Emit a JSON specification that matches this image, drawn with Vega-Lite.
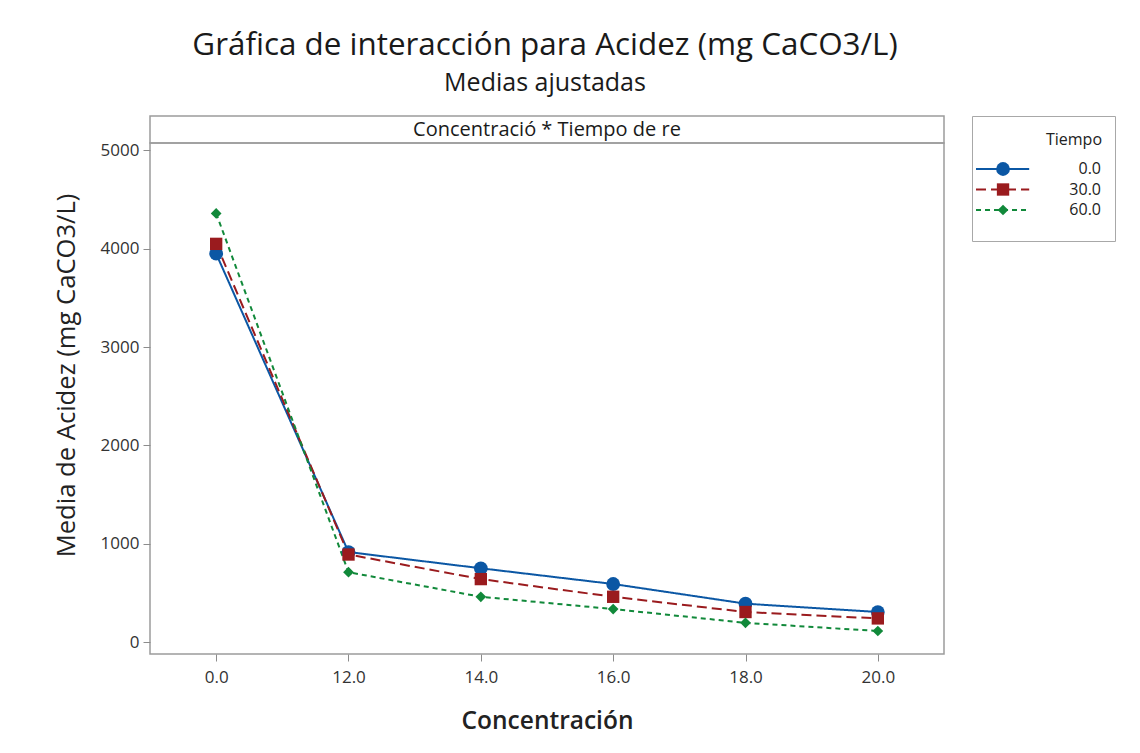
{
  "$schema": "https://vega.github.io/schema/vega-lite/v6.json",
  "background": "white",
  "padding": {"left": 53, "top": 29, "right": 10, "bottom": 10},
  "spacing": 26,
  "title": {
    "text": "Gráfica de interacción para Acidez (mg CaCO3/L)",
    "subtitle": "Medias ajustadas",
    "anchor": "start",
    "align": "center",
    "frame": "group",
    "dx": 395,
    "font": "Open Sans",
    "fontSize": 31.4,
    "fontWeight": 500,
    "color": "#1a1a1a",
    "subtitleFont": "Open Sans",
    "subtitleFontSize": 25,
    "subtitleFontWeight": 500,
    "subtitleColor": "#1a1a1a",
    "subtitlePadding": 10,
    "offset": 19
  },
  "config": {
    "font": "Open Sans",
    "view": {"stroke": "#9c9c9c", "strokeWidth": 1.5},
    "axis": {
      "domain": false,
      "grid": false,
      "tickColor": "#8c8c8c",
      "tickSize": 7,
      "labelFont": "Open Sans",
      "labelFontSize": 17,
      "labelColor": "#333333",
      "titleFont": "Open Sans",
      "titleFontSize": 24.5,
      "titleColor": "#222222"
    }
  },
  "datasets": {
    "medias": [
      {"Concentracion": "0.0", "Tiempo": "0.0", "Acidez": 3950},
      {"Concentracion": "12.0", "Tiempo": "0.0", "Acidez": 915},
      {"Concentracion": "14.0", "Tiempo": "0.0", "Acidez": 750},
      {"Concentracion": "16.0", "Tiempo": "0.0", "Acidez": 590},
      {"Concentracion": "18.0", "Tiempo": "0.0", "Acidez": 390},
      {"Concentracion": "20.0", "Tiempo": "0.0", "Acidez": 305},
      {"Concentracion": "0.0", "Tiempo": "30.0", "Acidez": 4050},
      {"Concentracion": "12.0", "Tiempo": "30.0", "Acidez": 890},
      {"Concentracion": "14.0", "Tiempo": "30.0", "Acidez": 640},
      {"Concentracion": "16.0", "Tiempo": "30.0", "Acidez": 460},
      {"Concentracion": "18.0", "Tiempo": "30.0", "Acidez": 305},
      {"Concentracion": "20.0", "Tiempo": "30.0", "Acidez": 240},
      {"Concentracion": "0.0", "Tiempo": "60.0", "Acidez": 4360},
      {"Concentracion": "12.0", "Tiempo": "60.0", "Acidez": 710},
      {"Concentracion": "14.0", "Tiempo": "60.0", "Acidez": 460},
      {"Concentracion": "16.0", "Tiempo": "60.0", "Acidez": 335},
      {"Concentracion": "18.0", "Tiempo": "60.0", "Acidez": 195},
      {"Concentracion": "20.0", "Tiempo": "60.0", "Acidez": 112}
    ],
    "series": [
      {"Tiempo": "0.0"},
      {"Tiempo": "30.0"},
      {"Tiempo": "60.0"}
    ]
  },
  "hconcat": [
    {
      "bounds": "flush",
      "spacing": 0,
      "vconcat": [
        {
          "width": 794,
          "height": 27,
          "data": {"values": [{"panel": "Concentració * Tiempo de re"}]},
          "layer": [
            {
              "mark": {"type": "rect", "fill": "white", "stroke": "#9c9c9c", "strokeWidth": 1.5},
              "encoding": {}
            },
            {
              "mark": {"type": "text", "font": "Open Sans", "fontSize": 20, "color": "#1a1a1a", "baseline": "middle"},
              "encoding": {"text": {"field": "panel"}}
            }
          ]
        },
        {
          "width": 794,
          "height": 511,
          "data": {"name": "medias"},
          "encoding": {
            "x": {
              "field": "Concentracion",
              "type": "ordinal",
              "sort": ["0.0", "12.0", "14.0", "16.0", "18.0", "20.0"],
              "scale": {"type": "point", "padding": 0.5},
              "axis": {"title": "Concentración", "titleFontWeight": 600, "labelAngle": 0, "labelPadding": 8, "titlePadding": 24}
            },
            "y": {
              "field": "Acidez",
              "type": "quantitative",
              "scale": {"domain": [-122, 5076], "nice": false, "zero": false},
              "axis": {"title": "Media de Acidez (mg CaCO3/L)", "titleFontSize": 25.6, "titleFontWeight": 400, "titleY": 232, "format": "d", "values": [0, 1000, 2000, 3000, 4000, 5000], "labelPadding": 4, "titlePadding": 21}
            },
            "color": {
              "field": "Tiempo",
              "type": "nominal",
              "scale": {"domain": ["0.0", "30.0", "60.0"], "range": ["#0b57a4", "#9a1b1e", "#11893a"]},
              "legend": null
            }
          },
          "layer": [
            {
              "mark": {"type": "line", "strokeWidth": 2},
              "encoding": {
                "strokeDash": {
                  "field": "Tiempo",
                  "type": "nominal",
                  "scale": {"domain": ["0.0", "30.0", "60.0"], "range": [[1, 0], [10, 5], [5, 4]]},
                  "legend": null
                }
              }
            },
            {
              "mark": {"type": "point", "filled": true, "opacity": 1},
              "encoding": {
                "shape": {
                  "field": "Tiempo",
                  "type": "nominal",
                  "scale": {"domain": ["0.0", "30.0", "60.0"], "range": ["circle", "square", "diamond"]},
                  "legend": null
                },
                "size": {
                  "field": "Tiempo",
                  "type": "nominal",
                  "scale": {"domain": ["0.0", "30.0", "60.0"], "range": [190, 115, 240]},
                  "legend": null
                }
              }
            }
          ]
        }
      ]
    },
    {
      "width": 143,
      "height": 125,
      "view": {"stroke": "#a8a8a8", "strokeWidth": 1},
      "title": {
        "text": "Tiempo",
        "anchor": "end",
        "frame": "group",
        "offset": -32,
        "dx": -13,
        "font": "Open Sans",
        "fontSize": 16,
        "fontWeight": 400,
        "color": "#222222"
      },
      "data": {"name": "series"},
      "encoding": {
        "y": {
          "field": "Tiempo",
          "type": "nominal",
          "scale": {"type": "point", "domain": ["0.0", "30.0", "60.0"], "padding": 0, "range": [53, 94]},
          "axis": null
        },
        "color": {"field": "Tiempo", "type": "nominal", "legend": null}
      },
      "layer": [
        {
          "mark": {"type": "rule", "strokeWidth": 2},
          "encoding": {
            "x": {"datum": 0.028, "type": "quantitative", "scale": {"domain": [0, 1], "nice": false, "zero": false}, "axis": null},
            "x2": {"datum": 0.4},
            "strokeDash": {"field": "Tiempo", "type": "nominal", "legend": null}
          }
        },
        {
          "mark": {"type": "point", "filled": true, "opacity": 1},
          "encoding": {
            "x": {"datum": 0.217, "type": "quantitative"},
            "shape": {"field": "Tiempo", "type": "nominal", "legend": null},
            "size": {"field": "Tiempo", "type": "nominal", "legend": null}
          }
        },
        {
          "mark": {"type": "text", "align": "right", "baseline": "middle", "font": "Open Sans", "fontSize": 16, "color": "#222222"},
          "encoding": {
            "x": {"datum": 0.902, "type": "quantitative"},
            "text": {"field": "Tiempo"},
            "color": {"value": "#222222"}
          }
        }
      ]
    }
  ]
}
